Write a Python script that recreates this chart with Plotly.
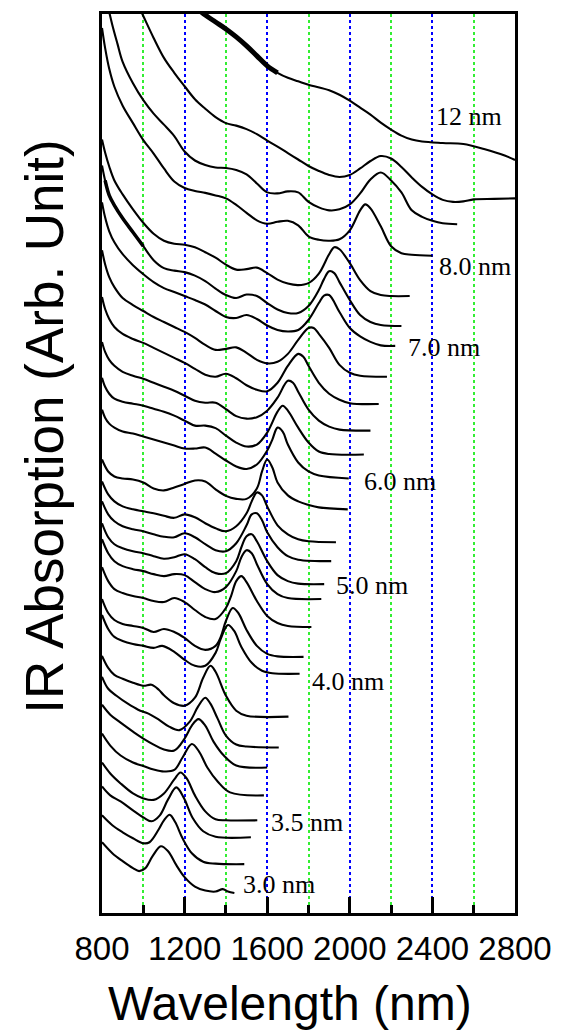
import plotly.graph_objects as go

# IR absorption spectra of PbSe quantum dots, stacked with a vertical offset.
# Each spectrum: wavelength (nm) and offset absorbance (arb. units),
# ordered from the largest dots (top) to the smallest (bottom).

wl_01 = [1250, 1300, 1350, 1400, 1450, 1500, 1550, 1600, 1650, 1700, 1750, 1800, 1900, 1950, 2000, 2050, 2100, 2150, 2200, 2250, 2300, 2350, 2450, 2550, 2650, 2750, 2800]
ab_01 = [9.09, 9.01, 8.94, 8.87, 8.79, 8.70, 8.60, 8.50, 8.43, 8.38, 8.345, 8.31, 8.255, 8.21, 8.15, 8.08, 8.01, 7.93, 7.86, 7.80, 7.76, 7.74, 7.725, 7.715, 7.665, 7.60, 7.555]

wl_02 = [975, 1000, 1050, 1100, 1150, 1200, 1250, 1300, 1350, 1400, 1450, 1500, 1550, 1600, 1650, 1700, 1750, 1800, 1850, 1900, 1950, 2000, 2050, 2100, 2150, 2200, 2250, 2300, 2350, 2400, 2450, 2500, 2550, 2600, 2700, 2800]
ab_02 = [9.11, 9.00, 8.78, 8.58, 8.43, 8.295, 8.165, 8.07, 7.985, 7.925, 7.90, 7.865, 7.815, 7.75, 7.69, 7.625, 7.56, 7.495, 7.445, 7.405, 7.385, 7.405, 7.47, 7.545, 7.595, 7.57, 7.485, 7.38, 7.285, 7.21, 7.155, 7.135, 7.14, 7.16, 7.165, 7.17]

wl_03 = [825, 850, 875, 900, 950, 1000, 1050, 1100, 1150, 1200, 1250, 1300, 1350, 1400, 1450, 1500, 1550, 1600, 1650, 1700, 1750, 1800, 1850, 1900, 1950, 2000, 2050, 2100, 2150, 2200, 2250, 2300, 2350, 2400, 2450, 2520]
ab_03 = [9.13, 8.91, 8.72, 8.54, 8.325, 8.155, 8.02, 7.91, 7.795, 7.64, 7.55, 7.505, 7.48, 7.475, 7.455, 7.41, 7.32, 7.23, 7.22, 7.24, 7.23, 7.135, 7.08, 7.05, 7.06, 7.11, 7.22, 7.36, 7.43, 7.35, 7.23, 7.05, 6.985, 6.945, 6.92, 6.91]

wl_04 = [800, 815, 835, 860, 900, 950, 1000, 1050, 1100, 1150, 1200, 1250, 1300, 1350, 1400, 1450, 1500, 1550, 1600, 1650, 1700, 1750, 1800, 1850, 1900, 1950, 2000, 2050, 2075, 2100, 2150, 2200, 2250, 2300, 2400]
ab_04 = [8.88, 8.68, 8.47, 8.29, 8.10, 7.925, 7.755, 7.62, 7.47, 7.34, 7.275, 7.245, 7.225, 7.20, 7.17, 7.105, 7.025, 6.95, 6.915, 6.935, 6.945, 6.90, 6.79, 6.755, 6.745, 6.76, 6.85, 7.05, 7.11, 7.07, 6.89, 6.69, 6.62, 6.605, 6.595]

wl_05 = [800, 815, 835, 860, 900, 950, 1000, 1050, 1100, 1150, 1200, 1250, 1300, 1350, 1400, 1450, 1500, 1550, 1600, 1650, 1700, 1750, 1800, 1850, 1900, 1925, 1950, 2000, 2050, 2100, 2150, 2200, 2290]
ab_05 = [7.76, 7.63, 7.49, 7.35, 7.21, 7.06, 6.925, 6.815, 6.745, 6.715, 6.705, 6.68, 6.63, 6.575, 6.505, 6.455, 6.46, 6.475, 6.42, 6.355, 6.315, 6.30, 6.32, 6.415, 6.61, 6.68, 6.66, 6.52, 6.35, 6.24, 6.20, 6.19, 6.19]

wl_06 = [800, 815, 835, 860, 900, 950, 1000, 1050, 1100, 1150, 1200, 1250, 1300, 1350, 1400, 1450, 1500, 1550, 1600, 1650, 1700, 1750, 1800, 1850, 1875, 1900, 1925, 1950, 2000, 2050, 2100, 2150, 2250]
ab_06 = [7.50, 7.35, 7.20, 7.10, 6.97, 6.83, 6.69, 6.55, 6.47, 6.445, 6.43, 6.395, 6.34, 6.265, 6.20, 6.17, 6.205, 6.19, 6.12, 6.055, 6.02, 6.02, 6.09, 6.25, 6.36, 6.44, 6.42, 6.33, 6.15, 6.00, 5.93, 5.90, 5.89]

wl_07 = [800, 815, 835, 860, 900, 950, 1000, 1050, 1100, 1150, 1200, 1250, 1300, 1350, 1400, 1450, 1500, 1550, 1600, 1650, 1700, 1750, 1800, 1850, 1875, 1900, 1950, 2000, 2050, 2100, 2150, 2220]
ab_07 = [7.13, 6.98, 6.84, 6.73, 6.61, 6.50, 6.41, 6.33, 6.27, 6.23, 6.19, 6.15, 6.105, 6.04, 5.98, 5.97, 6.00, 5.96, 5.895, 5.85, 5.835, 5.85, 5.95, 6.12, 6.195, 6.20, 6.03, 5.87, 5.785, 5.73, 5.695, 5.69]

wl_08 = [800, 815, 835, 860, 900, 950, 1000, 1050, 1100, 1150, 1200, 1250, 1300, 1350, 1400, 1450, 1500, 1550, 1600, 1650, 1700, 1750, 1800, 1825, 1850, 1900, 1950, 2000, 2050, 2180]
ab_08 = [6.65, 6.51, 6.38, 6.28, 6.17, 6.10, 6.04, 5.98, 5.93, 5.88, 5.83, 5.77, 5.70, 5.65, 5.66, 5.675, 5.62, 5.55, 5.515, 5.53, 5.61, 5.75, 5.87, 5.87, 5.81, 5.67, 5.50, 5.42, 5.39, 5.38]

wl_09 = [800, 815, 835, 860, 900, 950, 1000, 1050, 1100, 1150, 1200, 1250, 1300, 1350, 1400, 1450, 1500, 1550, 1600, 1650, 1700, 1750, 1775, 1800, 1850, 1900, 1950, 2000, 2140]
ab_09 = [6.18, 6.06, 5.96, 5.88, 5.81, 5.76, 5.72, 5.67, 5.62, 5.57, 5.52, 5.46, 5.40, 5.38, 5.41, 5.365, 5.295, 5.25, 5.235, 5.32, 5.49, 5.61, 5.58, 5.49, 5.32, 5.21, 5.15, 5.115, 5.107]

wl_10 = [800, 815, 835, 860, 900, 950, 1000, 1050, 1100, 1150, 1200, 1250, 1300, 1350, 1400, 1450, 1500, 1550, 1600, 1650, 1700, 1725, 1750, 1800, 1850, 1900, 1950, 2100]
ab_10 = [5.73, 5.63, 5.55, 5.49, 5.43, 5.39, 5.36, 5.32, 5.28, 5.24, 5.19, 5.14, 5.12, 5.12, 5.055, 4.985, 4.96, 4.975, 5.04, 5.17, 5.34, 5.32, 5.23, 5.05, 4.94, 4.88, 4.85, 4.84]

wl_11 = [800, 815, 835, 860, 900, 950, 1000, 1050, 1100, 1150, 1200, 1250, 1300, 1350, 1400, 1450, 1500, 1550, 1600, 1650, 1675, 1700, 1750, 1800, 1850, 1900, 2068]
ab_11 = [5.37, 5.28, 5.21, 5.16, 5.13, 5.11, 5.09, 5.06, 5.03, 4.99, 4.94, 4.89, 4.89, 4.865, 4.79, 4.72, 4.68, 4.70, 4.82, 5.03, 5.09, 5.04, 4.87, 4.72, 4.63, 4.605, 4.60]

wl_12 = [800, 815, 835, 860, 900, 950, 1000, 1050, 1100, 1150, 1200, 1250, 1300, 1350, 1400, 1450, 1500, 1550, 1600, 1625, 1650, 1675, 1700, 1750, 1800, 1850, 1995]
ab_12 = [5.05, 4.97, 4.91, 4.87, 4.83, 4.81, 4.78, 4.75, 4.72, 4.69, 4.66, 4.66, 4.67, 4.61, 4.54, 4.48, 4.455, 4.50, 4.64, 4.75, 4.87, 4.83, 4.70, 4.52, 4.43, 4.39, 4.36]

wl_13 = [800, 830, 860, 900, 950, 1000, 1050, 1100, 1150, 1200, 1250, 1300, 1350, 1400, 1450, 1500, 1550, 1575, 1600, 1625, 1650, 1700, 1750, 1800, 1850, 1990]
ab_13 = [4.55, 4.43, 4.38, 4.36, 4.35, 4.32, 4.26, 4.24, 4.27, 4.305, 4.34, 4.33, 4.25, 4.185, 4.155, 4.155, 4.26, 4.43, 4.55, 4.47, 4.32, 4.19, 4.13, 4.095, 4.07, 4.05]

wl_14 = [800, 830, 860, 900, 950, 1000, 1050, 1100, 1150, 1200, 1250, 1300, 1350, 1400, 1450, 1500, 1525, 1550, 1575, 1600, 1650, 1700, 1750, 1800, 1933]
ab_14 = [4.33, 4.20, 4.13, 4.08, 4.05, 4.03, 4.01, 3.985, 3.965, 4.00, 3.97, 3.91, 3.86, 3.83, 3.88, 4.01, 4.13, 4.22, 4.19, 4.08, 3.89, 3.80, 3.75, 3.73, 3.72]

wl_15 = [800, 830, 860, 900, 950, 1000, 1050, 1100, 1150, 1200, 1250, 1300, 1350, 1400, 1450, 1500, 1525, 1550, 1575, 1600, 1650, 1700, 1750, 1910]
ab_15 = [4.13, 4.00, 3.93, 3.88, 3.85, 3.83, 3.80, 3.775, 3.77, 3.81, 3.77, 3.70, 3.64, 3.63, 3.71, 3.89, 4.00, 4.01, 3.94, 3.82, 3.67, 3.58, 3.545, 3.53]

wl_16 = [800, 830, 860, 900, 950, 1000, 1050, 1100, 1150, 1200, 1250, 1300, 1350, 1400, 1450, 1475, 1500, 1525, 1550, 1600, 1650, 1700, 1750, 1876]
ab_16 = [3.91, 3.77, 3.70, 3.66, 3.63, 3.61, 3.58, 3.555, 3.57, 3.60, 3.55, 3.47, 3.41, 3.41, 3.53, 3.67, 3.78, 3.80, 3.73, 3.53, 3.39, 3.33, 3.305, 3.30]

wl_17 = [800, 830, 860, 900, 950, 1000, 1050, 1100, 1150, 1200, 1250, 1300, 1350, 1400, 1450, 1475, 1500, 1525, 1550, 1600, 1650, 1700, 1862]
ab_17 = [3.75, 3.61, 3.53, 3.48, 3.45, 3.43, 3.40, 3.38, 3.40, 3.39, 3.32, 3.25, 3.22, 3.27, 3.43, 3.57, 3.64, 3.61, 3.50, 3.30, 3.20, 3.16, 3.15]

wl_18 = [800, 830, 860, 900, 950, 1000, 1050, 1100, 1150, 1200, 1250, 1300, 1350, 1400, 1425, 1450, 1475, 1500, 1550, 1600, 1650, 1700, 1814]
ab_18 = [3.47, 3.33, 3.25, 3.21, 3.18, 3.16, 3.13, 3.12, 3.16, 3.12, 3.04, 2.97, 2.95, 3.06, 3.18, 3.33, 3.38, 3.32, 3.13, 2.98, 2.91, 2.88, 2.87]

wl_19 = [800, 830, 860, 900, 950, 1000, 1050, 1100, 1150, 1200, 1250, 1300, 1350, 1375, 1400, 1433, 1460, 1500, 1550, 1600, 1650, 1776]
ab_19 = [3.15, 3.01, 2.94, 2.90, 2.88, 2.86, 2.82, 2.85, 2.82, 2.76, 2.68, 2.64, 2.68, 2.77, 2.93, 3.06, 3.01, 2.84, 2.68, 2.60, 2.575, 2.57]

wl_20 = [800, 830, 860, 900, 950, 1000, 1050, 1092, 1150, 1200, 1250, 1300, 1350, 1375, 1410, 1440, 1475, 1525, 1575, 1625, 1757]
ab_20 = [2.99, 2.85, 2.77, 2.73, 2.70, 2.68, 2.66, 2.68, 2.62, 2.54, 2.48, 2.48, 2.61, 2.75, 2.89, 2.83, 2.67, 2.51, 2.43, 2.405, 2.40]

wl_21 = [800, 830, 860, 900, 950, 1000, 1040, 1075, 1100, 1150, 1200, 1250, 1290, 1325, 1350, 1400, 1450, 1500, 1703]
ab_21 = [2.58, 2.46, 2.39, 2.35, 2.31, 2.28, 2.29, 2.24, 2.185, 2.105, 2.08, 2.16, 2.36, 2.48, 2.42, 2.18, 2.03, 1.98, 1.97]

wl_22 = [800, 830, 870, 925, 975, 1025, 1075, 1125, 1175, 1225, 1265, 1300, 1325, 1360, 1400, 1450, 1500, 1656]
ab_22 = [2.37, 2.25, 2.18, 2.10, 2.04, 2.00, 1.94, 1.87, 1.835, 1.92, 2.07, 2.16, 2.10, 1.95, 1.78, 1.69, 1.67, 1.66]

wl_23 = [800, 840, 890, 950, 1000, 1050, 1100, 1150, 1200, 1235, 1267, 1300, 1340, 1390, 1450, 1600]
ab_23 = [2.09, 1.99, 1.91, 1.82, 1.75, 1.69, 1.64, 1.63, 1.75, 1.88, 1.945, 1.88, 1.72, 1.58, 1.48, 1.46]

wl_24 = [800, 840, 890, 950, 1000, 1050, 1100, 1150, 1190, 1235, 1270, 1310, 1360, 1420, 1584]
ab_24 = [1.80, 1.68, 1.58, 1.51, 1.475, 1.44, 1.42, 1.435, 1.56, 1.695, 1.62, 1.46, 1.32, 1.21, 1.18]

wl_25 = [800, 840, 890, 950, 1000, 1050, 1100, 1150, 1180, 1210, 1250, 1300, 1350, 1400, 1552]
ab_25 = [1.51, 1.40, 1.30, 1.20, 1.15, 1.135, 1.20, 1.34, 1.41, 1.35, 1.18, 1.02, 0.94, 0.93, 0.93]

wl_26 = [800, 840, 890, 950, 1000, 1040, 1080, 1120, 1160, 1195, 1240, 1290, 1350, 1521]
ab_26 = [1.27, 1.18, 1.12, 1.03, 0.96, 0.92, 0.98, 1.14, 1.26, 1.16, 0.95, 0.82, 0.765, 0.76]

wl_27 = [800, 850, 900, 950, 1000, 1030, 1075, 1100, 1128, 1155, 1190, 1235, 1290, 1350, 1489]
ab_27 = [0.98, 0.88, 0.81, 0.75, 0.70, 0.71, 0.84, 0.93, 0.985, 0.91, 0.75, 0.60, 0.515, 0.495, 0.49]

wl_28 = [800, 850, 900, 950, 980, 1010, 1045, 1085, 1120, 1160, 1200, 1250, 1300, 1350, 1385, 1410, 1441]
ab_28 = [0.71, 0.60, 0.52, 0.45, 0.42, 0.45, 0.57, 0.67, 0.62, 0.48, 0.36, 0.265, 0.225, 0.215, 0.24, 0.215, 0.20]

# Dot-size labels placed next to selected spectra
label_text = ["12 nm", "8.0 nm", "7.0 nm", "6.0 nm", "5.0 nm", "4.0 nm", "3.5 nm", "3.0 nm"]
label_wl = [2579, 2605, 2457, 2243, 2108, 1989, 1791, 1656]
label_ab = [7.99, 6.49, 5.67, 4.33, 3.29, 2.32, 0.905, 0.29]

# Axis ticks
x_tick_vals = [800, 1200, 1600, 2000, 2400, 2800]
x_tick_text = ["800", "1200", "1600", "2000", "2400", "2800"]

spectra = [
    (wl_01, ab_01), (wl_02, ab_02), (wl_03, ab_03), (wl_04, ab_04),
    (wl_05, ab_05), (wl_06, ab_06), (wl_07, ab_07), (wl_08, ab_08),
    (wl_09, ab_09), (wl_10, ab_10), (wl_11, ab_11), (wl_12, ab_12),
    (wl_13, ab_13), (wl_14, ab_14), (wl_15, ab_15), (wl_16, ab_16),
    (wl_17, ab_17), (wl_18, ab_18), (wl_19, ab_19), (wl_20, ab_20),
    (wl_21, ab_21), (wl_22, ab_22), (wl_23, ab_23), (wl_24, ab_24),
    (wl_25, ab_25), (wl_26, ab_26), (wl_27, ab_27), (wl_28, ab_28),
]

fig = go.Figure()

for wl, ab in spectra:
    fig.add_trace(go.Scatter(
        x=wl, y=ab, mode="lines",
        line=dict(color="black", width=2.1, shape="spline", smoothing=1.0),
        hoverinfo="skip",
    ))

# noisy short-wavelength ends read as thicker bands
fig.add_trace(go.Scatter(
    x=wl_01[:9], y=ab_01[:9], mode="lines",
    line=dict(color="black", width=5, shape="spline", smoothing=1.0),
    hoverinfo="skip",
))
fig.add_trace(go.Scatter(
    x=wl_06[1:7], y=ab_06[1:7], mode="lines",
    line=dict(color="black", width=3.5, shape="spline", smoothing=1.0),
    hoverinfo="skip",
))

for txt, xv, yv in zip(label_text, label_wl, label_ab):
    fig.add_annotation(
        x=xv, y=yv, text=txt, showarrow=False,
        xanchor="center", yanchor="middle",
        font=dict(family="Liberation Serif", size=26, color="black"),
    )

fig.add_annotation(
    xref="paper", yref="paper", x=0.456, y=-0.1319,
    text="Wavelength (nm)", showarrow=False,
    xanchor="center", yanchor="bottom",
    font=dict(family="Liberation Sans", size=48, color="black"),
)
fig.add_annotation(
    xref="paper", yref="paper", x=-0.138, y=0.541,
    text="IR Absorption (Arb. Unit)", showarrow=False, textangle=-90,
    xanchor="center", yanchor="middle",
    font=dict(family="Liberation Sans", size=53, color="black"),
)

fig.update_layout(
    width=563, height=1034,
    margin=dict(l=102, r=41, t=11, b=121),
    plot_bgcolor="white", paper_bgcolor="white",
    showlegend=False,
)

fig.update_xaxes(
    range=[800, 2800],
    tickmode="array", tickvals=x_tick_vals, ticktext=x_tick_text,
    ticks="inside", ticklen=16, tickwidth=2.5, tickcolor="black",
    tickfont=dict(family="Liberation Sans", size=33, color="black"),
    ticklabelstandoff=4,
    showline=True, linewidth=3, linecolor="black", mirror=True,
    showgrid=True, gridcolor="#0000ff", gridwidth=1.5, griddash="dot",
    zeroline=False,
    minor=dict(
        tick0=800, dtick=200, ticks="inside", ticklen=8, tickwidth=2.5,
        tickcolor="black", showgrid=True, gridcolor="#33ee33",
        gridwidth=1.5, griddash="dot",
    ),
)
fig.update_yaxes(
    range=[0, 9.02],
    showticklabels=False, ticks="", showgrid=False, zeroline=False,
    showline=True, linewidth=3, linecolor="black", mirror=True,
)

fig.write_html("out.html")
